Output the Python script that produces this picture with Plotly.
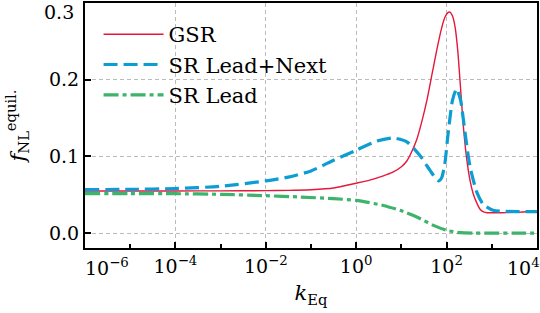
import plotly.graph_objects as go

# ---- data (log10 k_Eq, f_NL) ----
gsr_logk = [-6, -5, -4, -3, -2, -1.5, -1, -0.5, 0, 0.3, 0.6, 0.8, 1.0, 1.12, 1.22, 1.34, 1.45, 1.56, 1.67, 1.78, 1.88, 1.96, 2.03, 2.075, 2.13, 2.19, 2.25, 2.30, 2.37, 2.44, 2.52, 2.59, 2.67, 2.74, 2.82, 2.9, 3.1, 3.33, 3.7, 4]
gsr_f = [0.0548, 0.0548, 0.0549, 0.0550, 0.0553, 0.0556, 0.0565, 0.0587, 0.065, 0.069, 0.0745, 0.079, 0.0865, 0.094, 0.105, 0.122, 0.145, 0.172, 0.205, 0.238, 0.265, 0.281, 0.2875, 0.288, 0.283, 0.268, 0.236, 0.196, 0.140, 0.099, 0.068, 0.051, 0.039, 0.031, 0.0275, 0.0265, 0.0264, 0.0266, 0.0275, 0.0287]

srn_logk = [-6, -5, -4, -3, -2, -1.5, -1, -0.5, 0, 0.46, 0.82, 1.12, 1.41, 1.63, 1.75, 1.83, 1.89, 1.96, 2.03, 2.13, 2.22, 2.31, 2.41, 2.52, 2.67, 2.81, 3.03, 3.3, 3.55, 4]
srn_f = [0.0566, 0.0570, 0.058, 0.061, 0.068, 0.073, 0.081, 0.095, 0.108, 0.120, 0.124, 0.119, 0.101, 0.082, 0.072, 0.068, 0.072, 0.090, 0.128, 0.173, 0.188, 0.173, 0.130, 0.086, 0.053, 0.0374, 0.0296, 0.0283, 0.028, 0.028]

srl_logk = [-6, -5, -4, -3, -2, -1.24, -0.5, 0, 0.6, 0.97, 1.34, 1.71, 2.0, 2.3, 2.6, 3.0, 3.5, 4]
srl_f = [0.0514, 0.0514, 0.0513, 0.0505, 0.0487, 0.047, 0.0448, 0.0426, 0.036, 0.0296, 0.021, 0.010, 0.0035, 0.0005, 0.0, 0.0, 0.0, 0.0]

series_names = ["GSR", "SR Lead+Next", "SR Lead"]
x_major = [-4, -2, 0, 2]
x_major_text = ["10<sup>−4</sup>", "10<sup>−2</sup>", "10<sup>0</sup>", "10<sup>2</sup>"]
x_edge = [-6, 4]
x_edge_text = ["10<sup>−6</sup>", "10<sup>4</sup>"]
x_minor = [-5, -3, -1, 1, 3]
y_major = [0.0, 0.1, 0.2]
y_major_text = ["0.0", "0.1", "0.2"]
y_edge = 0.3
y_edge_text = "0.3"

FONT = "DejaVu Serif"
RED = "#E5173A"
BLUE = "#0C9DD3"
GREEN = "#3DB36B"

def tenpow(v):
    return [10 ** a for a in v]

fig = go.Figure()
fig.add_trace(go.Scatter(x=tenpow(gsr_logk), y=gsr_f, mode="lines", name=series_names[0],
                         legendgroup="a",
                         line=dict(color=RED, width=1.4, shape="spline", smoothing=0.6)))
fig.add_trace(go.Scatter(x=tenpow(srn_logk), y=srn_f, mode="lines", name=series_names[1],
                         legendgroup="b",
                         line=dict(color=BLUE, width=3.2, dash="14px,6px", shape="spline", smoothing=0.6)))
fig.add_trace(go.Scatter(x=tenpow(srl_logk), y=srl_f, mode="lines", name=series_names[2],
                         legendgroup="c",
                         line=dict(color=GREEN, width=3.2, dash="15px,4px,4px,4px", shape="spline", smoothing=0.6)))

axis_common = dict(
    showline=True, linecolor="black", linewidth=2, mirror=True,
    ticks="inside", tickcolor="black", tickwidth=1.6, ticklen=6,
    showgrid=True, gridcolor="#BBBBBB", gridwidth=1, griddash="4px,3px",
    zeroline=False, tickfont=dict(family=FONT, size=19, color="black"),
    automargin=False,
)

fig.update_xaxes(type="log", range=[-6, 4], tickvals=tenpow(x_major), ticktext=x_major_text,
                 minor=dict(tickvals=tenpow(x_minor), ticks="inside", ticklen=4, tickwidth=1.6,
                            tickcolor="black", showgrid=False),
                 title=dict(text="<i>k</i><sub>Eq</sub>", font=dict(family=FONT, size=21, color="black"), standoff=10),
                 **axis_common)
fig.update_yaxes(range=[-0.0195, 0.3], tickvals=y_major, ticktext=y_major_text,
                 title=dict(text="<i>f</i><sub>NL</sub><sup>equil.</sup>", font=dict(family=FONT, size=21, color="black"), standoff=18),
                 **axis_common)

ann_font = dict(family=FONT, size=19, color="black")
fig.add_annotation(x=x_edge[0], xref="x", y=0, yref="paper", yanchor="top", xanchor="center", xshift=22, yshift=-5,
                   text=x_edge_text[0], showarrow=False, font=ann_font)
fig.add_annotation(x=x_edge[1], xref="x", y=0, yref="paper", yanchor="top", xanchor="center", xshift=-14, yshift=-5,
                   text=x_edge_text[1], showarrow=False, font=ann_font)
fig.add_annotation(x=0, xref="paper", y=y_edge, yref="y", yanchor="top", xanchor="right", xshift=-9, yshift=4,
                   text=y_edge_text, showarrow=False, font=ann_font)

fig.update_layout(
    width=540, height=313,
    margin=dict(l=85, r=3, t=3, b=65),
    paper_bgcolor="white", plot_bgcolor="white",
    showlegend=True,
    legend=dict(x=0.03, y=0.955, xanchor="left", yanchor="top", bgcolor="rgba(0,0,0,0)",
                font=dict(family=FONT, size=21, color="black"), traceorder="grouped",
                tracegroupgap=0, itemwidth=60),
)

fig.write_html("out.html", config={"displayModeBar": False},
               post_script="document.body.style.margin='0px';document.body.style.padding='0px';")
